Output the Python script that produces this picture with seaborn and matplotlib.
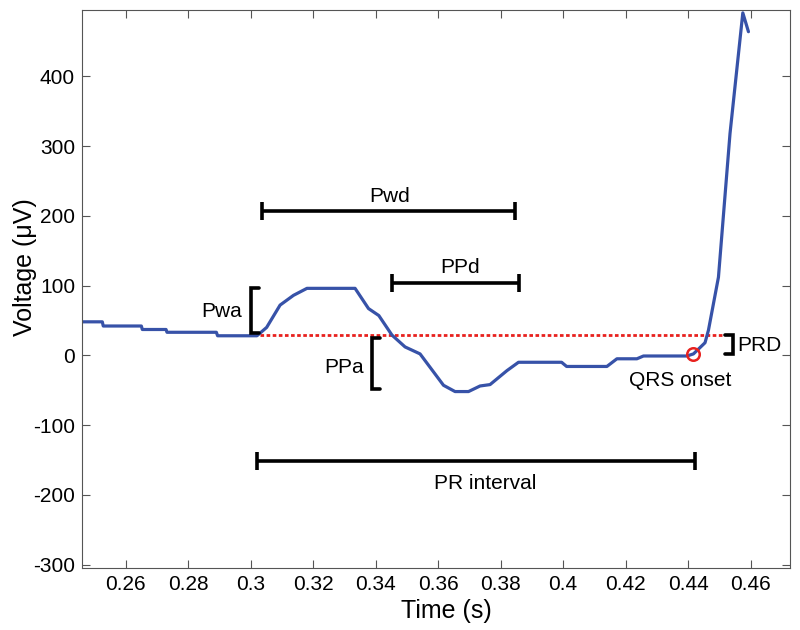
# ECG P-wave and PR interval annotation chart
import numpy as np
import pandas as pd
import seaborn as sns
import matplotlib
matplotlib.use("Agg")
import matplotlib.pyplot as plt
from matplotlib.ticker import FuncFormatter

# Signal samples
time_s = [0.246, 0.2525, 0.2528, 0.2650, 0.2653, 0.2729, 0.2732, 0.2890, 0.2894,
          0.3020, 0.3051, 0.3094, 0.3137, 0.3180, 0.3334, 0.3377, 0.3410, 0.3452,
          0.3494, 0.3542, 0.3617, 0.3654, 0.3697, 0.3734, 0.3766, 0.3820, 0.3857,
          0.3995, 0.4011, 0.4140, 0.4172, 0.4236, 0.4257, 0.4396, 0.4417, 0.4454,
          0.4465, 0.4497, 0.4534, 0.4575, 0.4593]
voltage_uv = [48, 48, 42, 42, 37, 37, 33, 33, 28,
              28, 40, 72, 86, 96, 96, 67, 57, 29,
              12, 2, -43, -52, -52, -44, -42, -22, -10,
              -10, -16, -16, -5, -5, -1, -1, 2, 18,
              36, 112, 318, 491, 464]

baseline_uv = 29
baseline_t = [0.303, 0.4511]
qrs_onset = (0.4417, 2.4)

x_ticks = [0.26, 0.28, 0.30, 0.32, 0.34, 0.36, 0.38, 0.40, 0.42, 0.44, 0.46]
y_ticks = [-300, -200, -100, 0, 100, 200, 300, 400]

df = pd.DataFrame({"Time": time_s, "Voltage": voltage_uv})

sns.set_style("ticks")
plt.rcParams["font.family"] = ["Liberation Sans", "DejaVu Sans"]
plt.rcParams["axes.unicode_minus"] = False
plt.rcParams["text.color"] = "black"

fig = plt.figure(figsize=(8, 6.3), dpi=100)
ax = fig.add_axes([0.1025, 0.0984, 0.885, 0.8856])

# Main trace
sns.lineplot(data=df, x="Time", y="Voltage", ax=ax, color="#3752a8", lw=2.3,
             sort=False, estimator=None)

# Isoelectric (baseline) reference line
ax.plot(baseline_t, [baseline_uv, baseline_uv], color="#e8211e", lw=2.0,
        linestyle=(0, (1.3, 0.9)), zorder=1)

# QRS onset marker
ax.plot([qrs_onset[0]], [qrs_onset[1]], marker="o", markersize=9, mfc="none",
        mec="#e8211e", mew=1.8, zorder=3)

# Duration bars
def duration_bar(x0, x1, y):
    ax.plot([x0, x1], [y, y], color="k", lw=2.6, marker="|", markersize=13, mew=2.6,
            solid_capstyle="butt")

duration_bar(0.3037, 0.3846, 207)
duration_bar(0.3452, 0.3859, 103)
duration_bar(0.3021, 0.4422, -151)

# Amplitude brackets
def bracket(x, y0, y1, side):
    d = 0.0025 * side
    ax.plot([x + d, x, x, x + d], [y1, y1, y0, y0], color="k", lw=2.6,
            solid_joinstyle="miter")

bracket(0.3001, 32, 97, 1)
bracket(0.3389, -48, 25, 1)
bracket(0.4543, 2.4, 28.7, -1)

fs = 15
ax.text(0.3446, 214, "Pwd", ha="center", va="bottom", fontsize=fs)
ax.text(0.3670, 112, "PPd", ha="center", va="bottom", fontsize=fs)
ax.text(0.3750, -170, "PR interval", ha="center", va="top", fontsize=fs)
ax.text(0.2972, 63, "Pwa", ha="right", va="center", fontsize=fs)
ax.text(0.3361, -17, "PPa", ha="right", va="center", fontsize=fs)
ax.text(0.4556, 14, "PRD", ha="left", va="center", fontsize=fs)
ax.text(0.4374, -22, "QRS onset", ha="center", va="top", fontsize=fs)

ax.set_xlim(0.246, 0.4726)
ax.set_ylim(-305, 495)
ax.set_xticks(x_ticks)
ax.set_yticks(y_ticks)
ax.xaxis.set_major_formatter(FuncFormatter(lambda v, p: f"{v:g}"))
ax.tick_params(direction="in", top=True, right=True, length=6, width=0.8,
               labelsize=15, color="#555555", labelcolor="black", pad=5)
for s in ax.spines.values():
    s.set_linewidth(0.8)
    s.set_color("#555555")

ax.set_xlabel("Time (s)", fontsize=18, color="black")
ax.set_ylabel("Voltage (\u03bcV)", fontsize=18, color="black")
ax.xaxis.set_label_coords(0.515, -0.055)
ax.yaxis.set_label_coords(-0.064, 0.54)

fig.savefig("out.png", dpi=100)
